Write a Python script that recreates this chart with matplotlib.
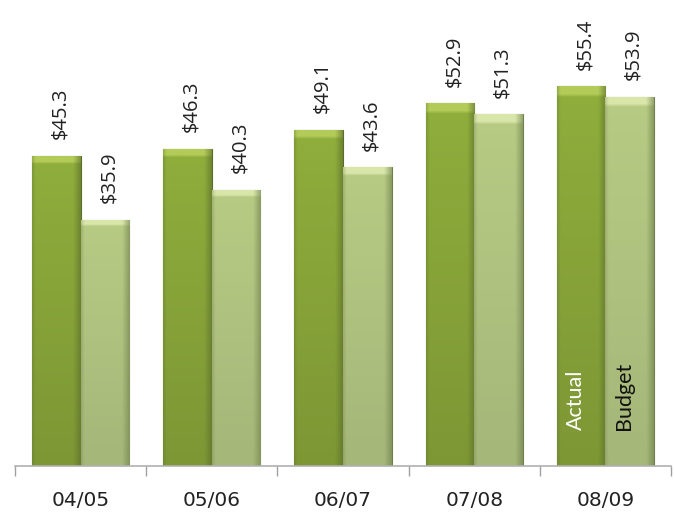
import numpy as np
import matplotlib
matplotlib.use("Agg")
import matplotlib.pyplot as plt
from matplotlib.colors import to_rgb

# data
years = ["04/05", "05/06", "06/07", "07/08", "08/09"]
actual = [45.3, 46.3, 49.1, 52.9, 55.4]
budget = [35.9, 40.3, 43.6, 51.3, 53.9]

# colours: (top, body, bottom, edge)
actual_cols = ("#b3cb58", "#8fae3c", "#7d9735", "#5b6d2b")
budget_cols = ("#d9e6aa", "#b7cb84", "#a5b779", "#6f7f4c")

fig = plt.figure(figsize=(6.74, 5.17), dpi=100)
ax = fig.add_axes([15 / 674, 51 / 517, 656 / 674, 466 / 517])

x = np.arange(len(years))
w = 0.37


def shade(cols, n=120, m=40):
    # vertical fade + darker sides for a bevelled look
    top, body, bot, edge = [np.array(to_rgb(c)) for c in cols]
    t = np.linspace(0, 1, n)[:, None]
    col = body + (bot - body) * t
    col = np.repeat(col[:, None, :], m, axis=1)
    col[:3] = top
    s = np.linspace(0, 1, m)
    dark = np.clip((s - 0.85) / 0.15, 0, 1) * 0.6 + np.clip((0.06 - s) / 0.06, 0, 1) * 0.3
    col = col * (1 - dark[None, :, None]) + edge * dark[None, :, None]
    return col


def draw(xs, vals, cols, txt_off):
    bars = ax.bar(xs, vals, w, color=cols[1], edgecolor=cols[3], linewidth=0.8, zorder=2)
    img = shade(cols)
    for b, v in zip(bars, vals):
        x0 = b.get_x()
        im = ax.imshow(img, extent=[x0, x0 + w, 0, v], aspect="auto", zorder=2.5,
                       interpolation="bilinear")
        im.set_clip_path(b)
        ax.annotate(f"${v:.1f}", (x0 + w / 2 + txt_off, v), xytext=(0, 12),
                    textcoords="offset points", rotation=90, ha="center", va="bottom",
                    fontsize=14.5, family="Open Sans", color="#222222")
    return bars


draw(x - w / 2, actual, actual_cols, 0.03)
draw(x + w / 2, budget, budget_cols, 0.03)

# series names written inside the last pair of bars
ax.text(x[-1] - w / 2 - 0.04, 5.2, "Actual", rotation=90, ha="center", va="bottom",
        fontsize=15.5, family="Lato", color="white", zorder=4)
ax.text(x[-1] + w / 2 - 0.04, 5.2, "Budget", rotation=90, ha="center", va="bottom",
        fontsize=15.5, family="Lato", color="#111111", zorder=4)

ax.set_xlim(-0.5, len(years) - 0.5)
ax.set_ylim(0, 68)
ax.set_xticks(x)
ax.set_xticklabels(years, fontsize=14.5, family="DejaVu Sans", color="#222222")
ax.tick_params(axis="x", which="major", length=0, pad=18)
ax.set_xticks(np.arange(-0.5, len(years)), minor=True)
ax.tick_params(axis="x", which="minor", length=7, color="#a0a0a0", width=1)
ax.set_yticks([])
for s in ["left", "right", "top"]:
    ax.spines[s].set_visible(False)
ax.spines["bottom"].set_color("#b0b0b0")
ax.spines["bottom"].set_linewidth(1.2)

fig.savefig("out.png", dpi=100)
